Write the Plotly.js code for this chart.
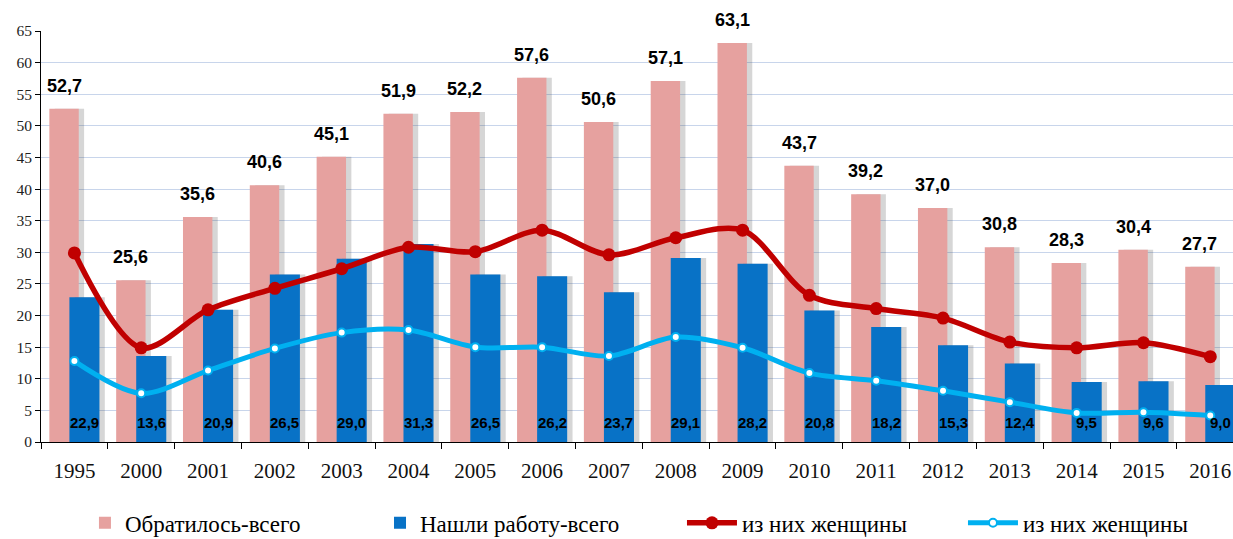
<!DOCTYPE html>
<html>
<head>
<meta charset="utf-8">
<script src="https://cdn.plot.ly/plotly-3.0.1.min.js"></script>
<style>html,body{margin:0;padding:0;background:#fff;}#chart{width:1233px;height:539px;}</style>
</head>
<body>
<div id="chart"></div>
<script>
const years = ['1995','2000','2001','2002','2003','2004','2005','2006','2007','2008','2009','2010','2011','2012','2013','2014','2015','2016'];
const applied = [52.7,25.6,35.6,40.6,45.1,51.9,52.2,57.6,50.6,57.1,63.1,43.7,39.2,37.0,30.8,28.3,30.4,27.7];
const employed = [22.9,13.6,20.9,26.5,29.0,31.3,26.5,26.2,23.7,29.1,28.2,20.8,18.2,15.3,12.4,9.5,9.6,9.0];
const appliedWomen = [29.9,14.9,20.9,24.3,27.4,30.8,30.1,33.5,29.6,32.3,33.5,23.2,21.1,19.6,15.8,14.9,15.7,13.5];
const employedWomen = [12.8,7.7,11.3,14.8,17.3,17.7,15.0,15.0,13.6,16.6,14.9,10.9,9.7,8.1,6.3,4.6,4.7,4.2];
const legendNames = ['Обратилось-всего','Нашли работу-всего','из них женщины','из них женщины'];

const idx = years.map((_, i) => i);
const fmt = v => v.toFixed(1).replace('.', ',');

const PINK = '#E6A19F', BLUE = '#0872C6', RED = '#C00000', CYAN = '#00B0F0';
const SHADOW = 'rgba(70,70,70,0.22)';
const pinkOff = -0.375, pinkW = 0.44, blueOff = -0.075, blueW = 0.45;
const shadow = 0.08;
const SERIF = '"Times New Roman", "Liberation Serif", serif';

const traces = [
  {type:'bar', x: idx, y: applied, offset: pinkOff + shadow, width: pinkW, marker:{color:SHADOW}, showlegend:false, hoverinfo:'skip'},
  {type:'bar', x: idx, y: applied, offset: pinkOff, width: pinkW, marker:{color:PINK}, name: legendNames[0], legend:'legend'},
  {type:'bar', x: idx, y: employed, offset: blueOff + shadow, width: blueW, marker:{color:SHADOW}, showlegend:false, hoverinfo:'skip'},
  {type:'bar', x: idx, y: employed, offset: blueOff, width: blueW, marker:{color:BLUE}, name: legendNames[1], legend:'legend2'},
  {type:'scatter', mode:'lines+markers', x: idx, y: appliedWomen, line:{color:RED, width:5.5, shape:'spline', smoothing:0.9},
   marker:{color:RED, size:13}, name: legendNames[2], legend:'legend3', cliponaxis:false},
  {type:'scatter', mode:'lines+markers', x: idx, y: employedWomen, line:{color:CYAN, width:5, shape:'spline', smoothing:0.9},
   marker:{color:'#ffffff', size:8, line:{color:CYAN, width:2}}, name: legendNames[3], legend:'legend4', cliponaxis:false}
];

const annotations = [];
idx.forEach(i => {
  annotations.push({x: i + pinkOff + pinkW/2, y: applied[i], xref:'x', yref:'y', text: fmt(applied[i]),
    showarrow:false, yanchor:'bottom', yshift:11, font:{family:'Liberation Sans', size:18, color:'#000', weight:'bold'}});
  annotations.push({x: i + blueOff + blueW/2, y: 0, xref:'x', yref:'y', text: fmt(employed[i]),
    showarrow:false, yanchor:'bottom', yshift:9, font:{family:'Liberation Sans', size:15, color:'#000', weight:'bold'}});
});

const legFont = {family: SERIF, size:23, color:'#000'};
const legBase = {orientation:'h', xref:'container', yref:'container', yanchor:'middle', y:0.03, xanchor:'left', bgcolor:'rgba(0,0,0,0)', font: legFont};

const layout = {
  width:1233, height:539,
  margin:{l:41, r:0, t:31, b:97, autoexpand:false},
  paper_bgcolor:'#fff', plot_bgcolor:'#fff',
  barmode:'overlay',
  showlegend:true,
  font:{family: SERIF},
  xaxis:{
    range:[-0.5, 17.34], tickmode:'array', tickvals: idx, ticktext: years,
    ticks:'', showgrid:false, zeroline:false,
    showline:true, linecolor:'#000', linewidth:1,
    ticklabelstandoff: 10,
    tickfont:{family: SERIF, size:21, color:'#111'},
    minor:{tick0:-0.5, dtick:1, ticks:'outside', ticklen:6, tickcolor:'#000', showgrid:false}
  },
  yaxis:{
    range:[0,65], tickmode:'linear', tick0:0, dtick:5,
    ticks:'outside', ticklen:5, tickcolor:'#000',
    showline:true, linecolor:'#000', linewidth:1,
    gridcolor:'#C8D5EB', gridwidth:1, zeroline:false,
    tickfont:{family: SERIF, size:15.5, color:'#222'}
  },
  legend: Object.assign({}, legBase, {x:0.0689}),
  legend2: Object.assign({}, legBase, {x:0.3082}),
  legend3: Object.assign({}, legBase, {x:0.5531, itemwidth:50}),
  legend4: Object.assign({}, legBase, {x:0.781, itemwidth:50}),
  annotations: annotations
};

Plotly.newPlot('chart', traces, layout, {staticPlot:true, displayModeBar:false});
</script>
</body>
</html>
